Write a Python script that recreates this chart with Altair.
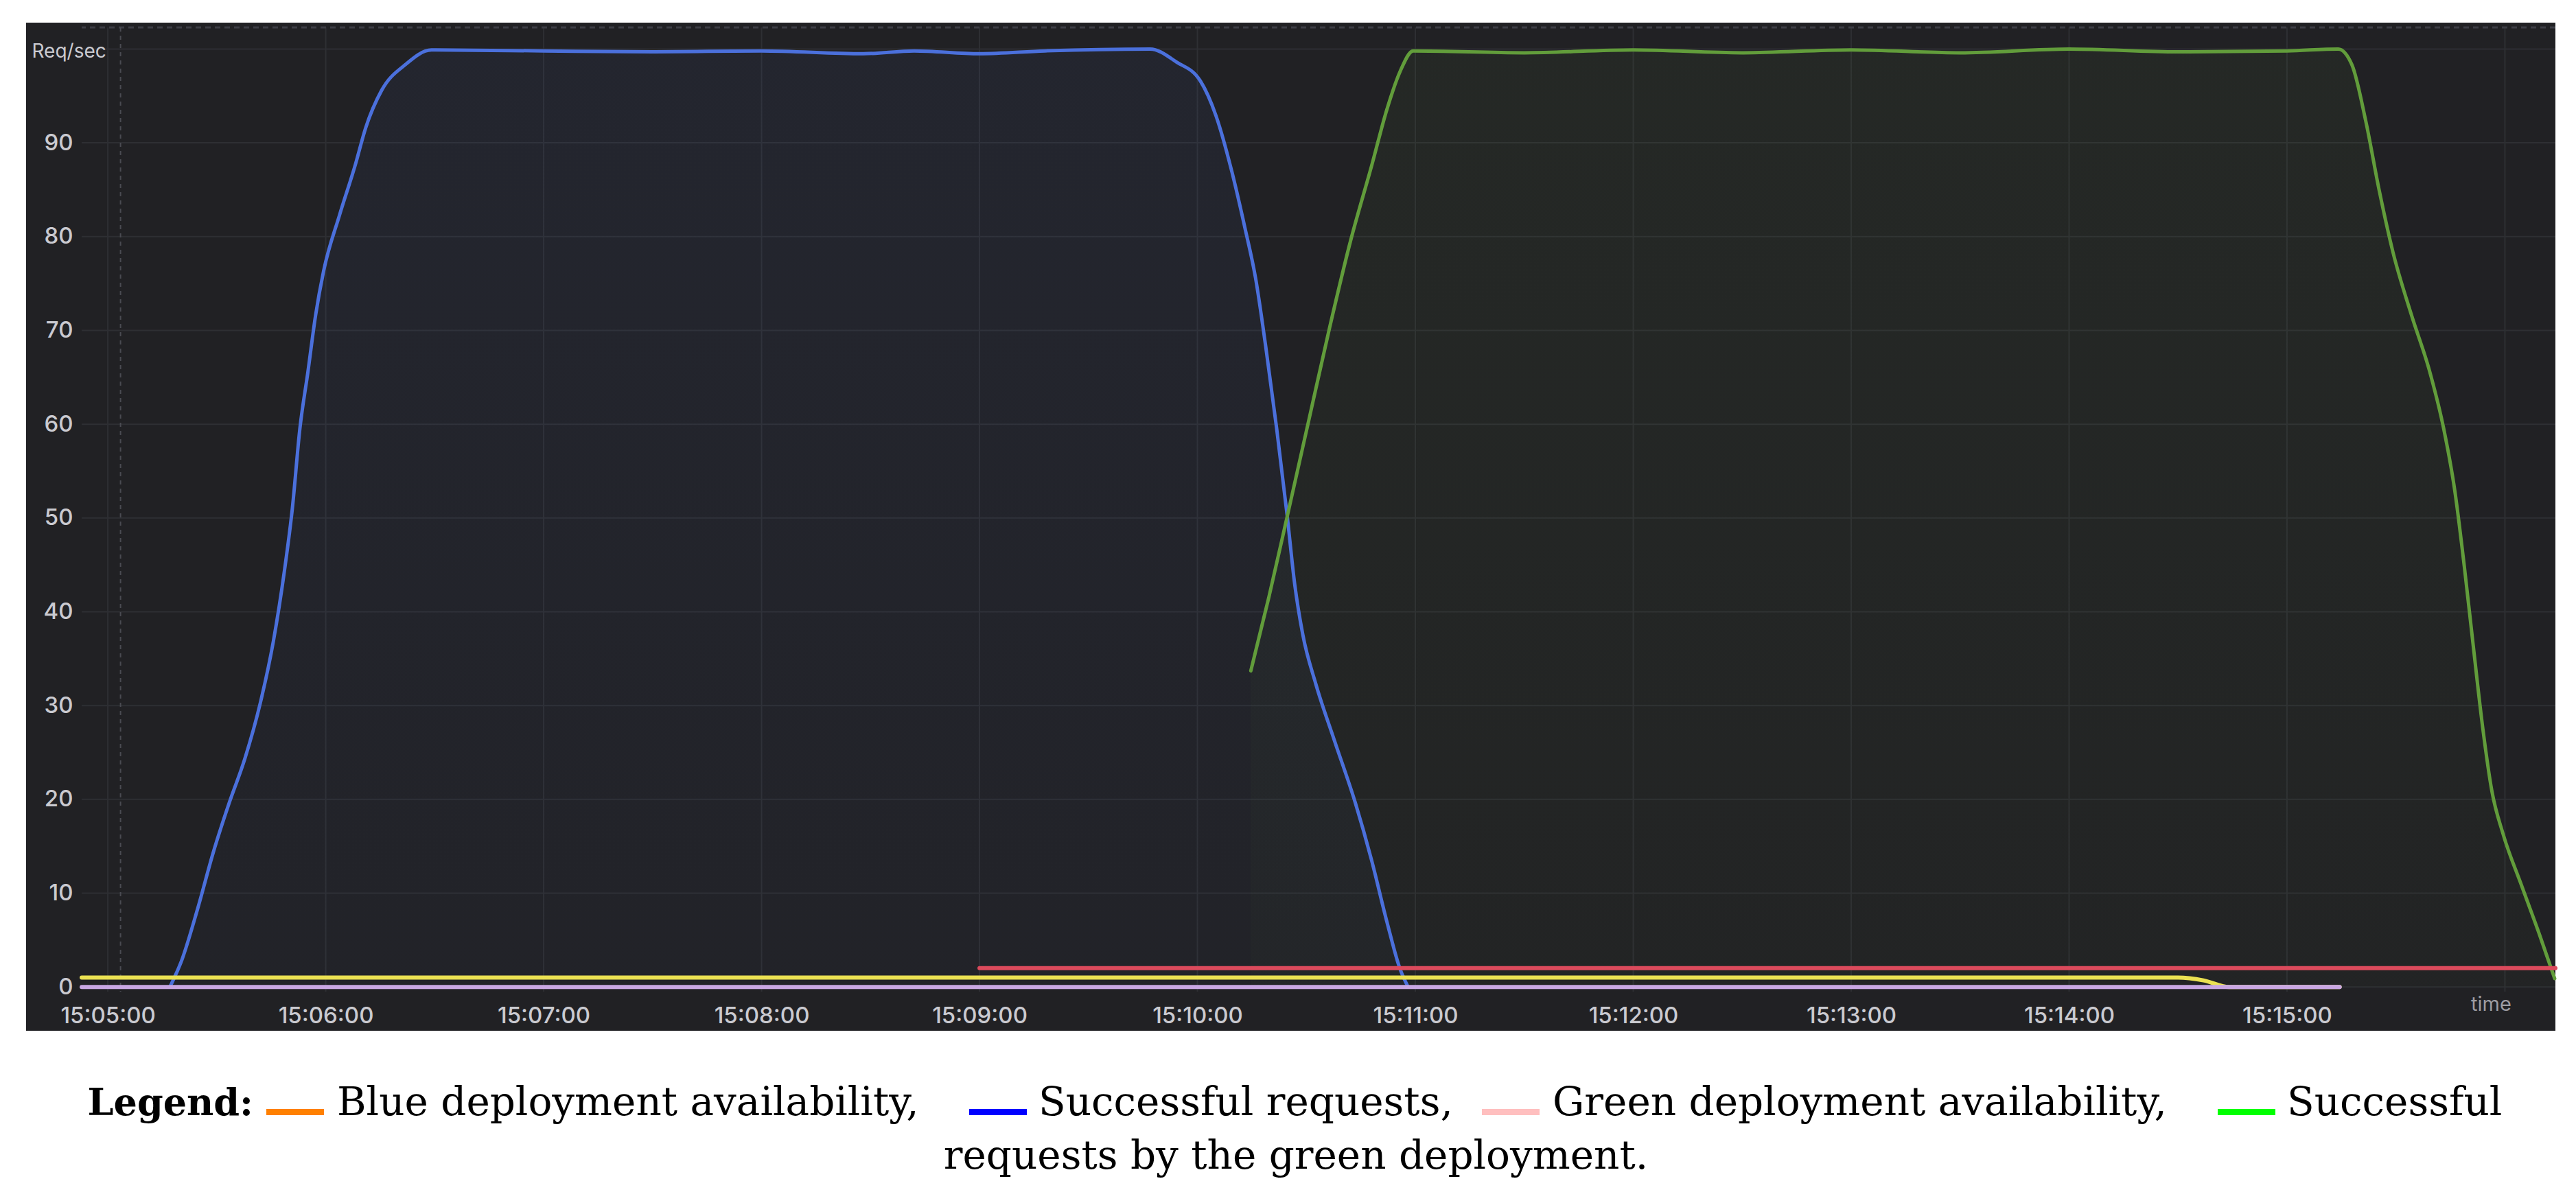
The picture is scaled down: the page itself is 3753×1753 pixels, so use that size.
import altair as alt
import pandas as pd

# ---------------- data (seconds after 15:05:00, values in req/sec) ----------------
blue_sec = [17.1, 20.4, 24.7, 29.0, 33.4, 37.7, 42.0, 45.6, 48.6, 50.8, 52.9, 55.1, 57.2,
            59.4, 63.8, 68.1, 71.0, 75.4, 81.8, 89.1, 120, 150, 180, 208, 222, 240, 258,
            287, 294.3, 300.8, 305.1, 309.5, 313.1, 316.0, 318.8, 321.8, 324.7, 326.8,
            329.0, 332.6, 337.7, 343.5, 347.9, 352.2, 355.8, 358.0]
blue_val = [0, 2.9, 8.3, 14.3, 19.6, 24.3, 30.3, 36.9, 44.3, 51.0, 59.6, 65.6, 71.6,
            76.3, 82.3, 87.6, 91.6, 95.6, 98.3, 99.9, 99.8, 99.7, 99.8, 99.5, 99.8, 99.5, 99.8,
            100, 98.6, 96.6, 92.9, 86.9, 80.9, 75.6, 68.3, 59.6, 50.3, 42.9,
            37.6, 32.3, 26.3, 19.6, 13.6, 6.9, 1.9, 0]

green_sec = [314.7, 319.7, 324.8, 330.6, 336.4, 342.2, 348.0, 352.2, 355.8, 359.4,
             390, 420, 450, 480, 510, 540, 570, 600, 614.1, 617.9, 621.7, 625.4, 629.2,
             634.3, 639.3, 643.1, 646.2, 648.8, 651.3, 653.9, 656.4, 659.5, 664.5,
             669.5, 673.7]
green_val = [33.7, 41.6, 50.3, 60.3, 70.3, 79.6, 87.6, 93.6, 97.6, 99.8,
             99.6, 99.9, 99.6, 99.9, 99.6, 100, 99.7, 99.8, 100, 98.3, 92.3, 84.9, 78.3,
             71.6, 65.6, 59.6, 52.9, 44.9, 36.3, 27.6, 20.9, 16.3, 10.9,
             5.6, 0.9]

yellow_sec = [-7.2, 570, 577, 584, 614.5]
yellow_val = [1, 1, 0.7, 0, 0]

purple_sec = [-7.2, 614.5]
purple_val = [0, 0]

red_sec = [240, 673.9]
red_val = [2, 2]

y_ticks = [0, 10, 20, 30, 40, 50, 60, 70, 80, 90, 100]
x_tick_minutes = [0, 1, 2, 3, 4, 5, 6, 7, 8, 9, 10, 11]
domain_sec = [-7.2, 673.9]
top_dash_value = [102.3]
marker_sec = [3.5]

legend_title = "Legend:"
legend_labels = ["Blue deployment availability,", "Successful requests,",
                 "Green deployment availability,", "Successful"]
legend_colors = ["#ff8000", "#0000ff", "#ffbfbf", "#00ff00"]
legend_line2 = "requests by the green deployment."

# ---------------- helpers ----------------
BASE = pd.Timestamp("2024-01-01 15:05:00")


def iso(secs):
    return [(BASE + pd.Timedelta(seconds=s)).strftime("%Y-%m-%dT%H:%M:%S.%f")[:-3] + "Z" for s in secs]


def ms(s):
    return int((BASE + pd.Timedelta(seconds=s)).value // 10**6)


def frame(secs, vals):
    return pd.DataFrame({"time": iso(secs), "value": vals})


W = 3604
H = 1405
BG = "#212124"
GRID = "#2e2f33"
LABEL = "#cacad0"

x_values = [ms(m * 60) for m in x_tick_minutes]
last_label = ms(10 * 60)

x_enc = alt.X(
    "time:T",
    scale=alt.Scale(type="utc", domain=[ms(domain_sec[0]), ms(domain_sec[1])]),
    axis=alt.Axis(
        values=x_values,
        labelExpr=f"datum.value > {last_label + 1000} ? '' : utcFormat(datum.value, '%H:%M:%S')",
        labelFlush=False,
        labelOverlap=False,
        labelPadding=19,
        labelFont="Inter",
        labelFontSize=33,
        labelFontWeight=500,
        labelColor=LABEL,
        ticks=False,
        domain=False,
        grid=False,
        zindex=2,
        title="time",
        titleFont="Inter",
        titleFontSize=29,
        titleFontWeight="normal",
        titleColor="#9c9ca2",
        titleX=3510,
        titleY=18,
        titleAlign="center",
        titleBaseline="middle",
    ),
)
y_enc = alt.Y(
    "value:Q",
    scale=alt.Scale(domain=[-0.5, top_dash_value[0]], nice=False, zero=False),
    axis=alt.Axis(
        values=y_ticks,
        labelExpr="datum.value == 100 ? '' : datum.label",
        labelPadding=13,
        labelFont="Inter",
        labelFontSize=33,
        labelFontWeight=500,
        labelColor=LABEL,
        ticks=False,
        domain=False,
        grid=False,
        zindex=2,
        title="Req/sec",
        titleFont="Inter",
        titleFontSize=28,
        titleFontWeight="normal",
        titleColor=LABEL,
        titleAngle=0,
        titleAlign="left",
        titleBaseline="middle",
        titleX=-73,
        titleY=35,
    ),
)

one = pd.DataFrame({"a": [0]})

bg = alt.Chart(one).mark_rect(color=BG).encode(
    x=alt.value(-81), x2=alt.value(W), y=alt.value(-7), y2=alt.value(1462)
)

grid_y = alt.Chart(pd.DataFrame({"value": y_ticks})).mark_rule(
    color=GRID, strokeWidth=2
).encode(y=alt.Y("value:Q"))

grid_x = alt.Chart(pd.DataFrame({"time": iso([m * 60 for m in x_tick_minutes])})).mark_rule(
    color=GRID, strokeWidth=2
).encode(x=alt.X("time:T"))

top_dash = alt.Chart(pd.DataFrame({"value": top_dash_value})).mark_rule(
    color="#3c3d44", strokeWidth=3, strokeDash=[8, 6]
).encode(y=alt.Y("value:Q"))

marker = alt.Chart(pd.DataFrame({"time": iso(marker_sec)})).mark_rule(
    color="#4a4b52", strokeWidth=2, strokeDash=[6, 6]
).encode(x=alt.X("time:T"))


def area(df, rgb):
    return alt.Chart(df).mark_area(
        interpolate="monotone",
        color=alt.Gradient(
            gradient="linear",
            stops=[alt.GradientStop(color=f"rgba({rgb},0.06)", offset=0),
                   alt.GradientStop(color=f"rgba({rgb},0.025)", offset=1)],
            x1=0, x2=0, y1=0, y2=1,
        ),
    ).encode(x=alt.X("time:T"), y=alt.Y("value:Q"))


def line(df, color, width):
    return alt.Chart(df).mark_line(
        color=color, strokeWidth=width, interpolate="monotone", strokeCap="round"
    ).encode(x=alt.X("time:T"), y=alt.Y("value:Q"))


blue_df = frame(blue_sec, blue_val)
green_df = frame(green_sec, green_val)

axes_layer = alt.Chart(blue_df).mark_line(opacity=0).encode(x=x_enc, y=y_enc)

layers = [
    bg,
    axes_layer,
    grid_y,
    grid_x,
    top_dash,
    marker,
    area(blue_df, "74,111,220"),
    area(green_df, "98,157,59"),
    line(blue_df, "#4b70dc", 5),
    line(green_df, "#629d3b", 5),
    line(frame(red_sec, red_val), "#dc4a5c", 6),
    line(frame(yellow_sec, yellow_val), "#ebe152", 6),
    line(frame(purple_sec, purple_val), "#c9a7e3", 6),
]

# ---------------- caption (legend) ----------------
SERIF = "DejaVu Serif"
FS = 58
BASE1 = 1585
BASE2 = 1663

layers.append(
    alt.Chart(one).mark_text(text=legend_title, font=SERIF, fontSize=FS - 4, fontWeight="bold",
                             align="right", baseline="alphabetic", color="black")
    .encode(x=alt.value(250), y=alt.value(BASE1))
)
sw_x = [269, 1293, 2040, 3112]
tx_x = [372, 1394, 2143, 3213]
for lab, col, sx, tx in zip(legend_labels, legend_colors, sw_x, tx_x):
    layers.append(
        alt.Chart(one).mark_rect(color=col).encode(
            x=alt.value(sx), x2=alt.value(sx + 84), y=alt.value(BASE1 - 9), y2=alt.value(BASE1)
        )
    )
    layers.append(
        alt.Chart(one).mark_text(text=lab, font=SERIF, fontSize=FS, align="left",
                                 baseline="alphabetic", color="black")
        .encode(x=alt.value(tx), y=alt.value(BASE1))
    )
layers.append(
    alt.Chart(one).mark_text(text=legend_line2, font=SERIF, fontSize=FS, align="center",
                             baseline="alphabetic", color="black")
    .encode(x=alt.value(1769), y=alt.value(BASE2))
)

chart = alt.layer(*layers).properties(
    width=W,
    height=H,
    background="white",
    padding={"left": 30, "top": 25, "right": 5, "bottom": 5},
).configure_view(stroke=None)

chart.save("out.html", embed_options={"renderer": "svg", "actions": False})
